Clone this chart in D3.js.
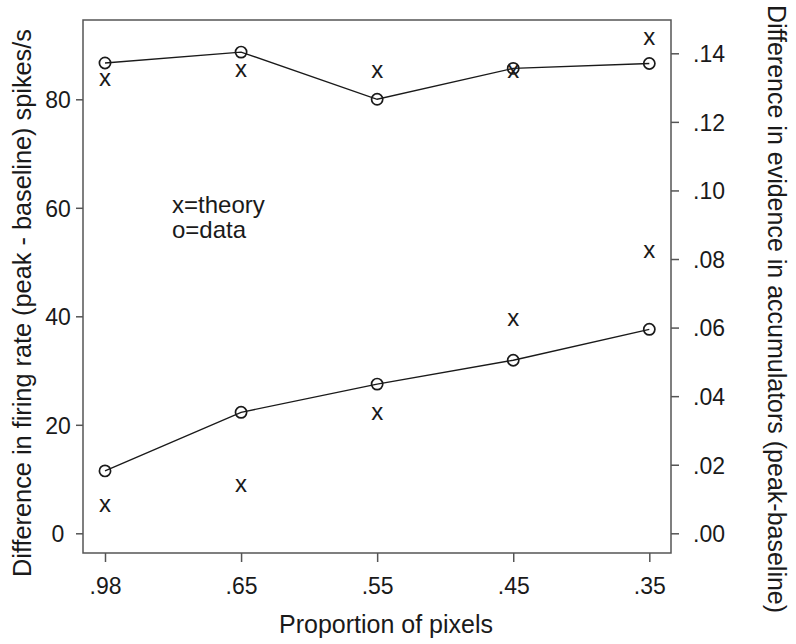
<!DOCTYPE html>
<html><head><meta charset="utf-8">
<script src="https://cdn.jsdelivr.net/npm/d3@7"></script>
<style>
html,body{margin:0;padding:0;background:#fff;}
svg{display:block;font-family:"Liberation Sans",Arial,sans-serif;}
</style></head>
<body>
<svg id="chart" width="796" height="644"></svg>
<script>
const categories = [".98", ".65", ".55", ".45", ".35"];
// data (o) on left axis: firing rate, spikes/s
const dataTop = [86.7, 88.7, 80.0, 85.7, 86.6];
const dataBottom = [11.5, 22.3, 27.5, 31.9, 37.6];
// theory (x) on right axis: evidence in accumulators
const theoryTop = [0.1322, 0.1348, 0.1346, 0.1346, 0.1443];
const theoryBottom = [0.0080, 0.0139, 0.0350, 0.0622, 0.0820];
const leftTicks = [0, 20, 40, 60, 80];
const rightTicks = [0, 0.02, 0.04, 0.06, 0.08, 0.10, 0.12, 0.14];
const legendLines = ["x=theory", "o=data"];

const svg = d3.select("#chart");
const frame = {left: 83, right: 671, top: 20, bottom: 553};
const ink = "#1a1a1a", axisCol = "#555";

const x = d3.scaleLinear().domain([0, categories.length - 1]).range([105, 649.3]);
const yL = d3.scaleLinear().domain([0, 80]).range([533.3, 99.3]);
const yR = d3.scaleLinear().domain([0, 0.14]).range([533.3, 53.3]);

// frame
svg.append("rect").attr("x", frame.left).attr("y", frame.top)
  .attr("width", frame.right - frame.left).attr("height", frame.bottom - frame.top)
  .attr("fill", "none").attr("stroke", axisCol).attr("stroke-width", 1.5);

// left axis
const gL = svg.append("g").attr("transform", `translate(${frame.left},0)`)
  .call(d3.axisLeft(yL).tickValues(leftTicks).tickSize(7).tickSizeOuter(0).tickFormat(d3.format("d")));
gL.select(".domain").remove();
gL.selectAll("line").attr("stroke", axisCol).attr("stroke-width", 1.5);
gL.selectAll("text").attr("text-anchor", "middle").attr("x", -25).attr("dy", "0.36em")
  .attr("font-size", 23).attr("fill", ink).attr("font-family", "Liberation Sans, Arial, sans-serif");

// right axis
const fmtR = d => d3.format(".2f")(d).replace(/^0/, "");
const gR = svg.append("g").attr("transform", `translate(${frame.right},0)`)
  .call(d3.axisRight(yR).tickValues(rightTicks).tickSize(8).tickSizeOuter(0).tickFormat(fmtR));
gR.select(".domain").remove();
gR.selectAll("line").attr("stroke", axisCol).attr("stroke-width", 1.5);
gR.selectAll("text").attr("text-anchor", "start").attr("x", 22).attr("dy", "0.36em")
  .attr("font-size", 23).attr("fill", ink).attr("font-family", "Liberation Sans, Arial, sans-serif");

// bottom axis
const gB = svg.append("g").attr("transform", `translate(0,${frame.bottom})`)
  .call(d3.axisBottom(x).tickValues(d3.range(categories.length)).tickSize(9).tickSizeOuter(0)
    .tickFormat(i => categories[i]));
gB.select(".domain").remove();
gB.selectAll("line").attr("stroke", axisCol).attr("stroke-width", 1.5);
gB.selectAll("text").attr("y", 41).attr("dy", 0)
  .attr("font-size", 23).attr("fill", ink).attr("font-family", "Liberation Sans, Arial, sans-serif");

// axis titles
svg.append("text").attr("transform", `translate(386,633)`).attr("text-anchor", "middle")
  .attr("font-size", 25).attr("fill", ink).text("Proportion of pixels");
svg.append("text").attr("transform", `translate(31,303) rotate(-90)`).attr("text-anchor", "middle")
  .attr("font-size", 25.3).attr("fill", ink).text("Difference in firing rate (peak - baseline) spikes/s");
svg.append("text").attr("transform", `translate(768,309) rotate(90)`).attr("text-anchor", "middle")
  .attr("font-size", 25).attr("fill", ink).text("Difference in evidence in accumulators (peak-baseline)");

// data lines
const lineL = d3.line().x((d, i) => x(i)).y(d => yL(d));
[dataTop, dataBottom].forEach(s => {
  svg.append("path").datum(s).attr("d", lineL).attr("fill", "none")
    .attr("stroke", ink).attr("stroke-width", 1.4);
});

// data circles
[dataTop, dataBottom].forEach(s => {
  svg.append("g").selectAll("circle").data(s).join("circle")
    .attr("cx", (d, i) => x(i)).attr("cy", d => yL(d)).attr("r", 5.6)
    .attr("fill", "none").attr("stroke", ink).attr("stroke-width", 1.7);
});

// theory x marks
[theoryTop, theoryBottom].forEach(s => {
  svg.append("g").selectAll("text").data(s).join("text")
    .attr("x", (d, i) => x(i)).attr("y", d => yR(d) + 6.2)
    .attr("text-anchor", "middle").attr("font-size", 24).attr("fill", ink).text("x");
});

// legend text
svg.append("g").selectAll("text").data(legendLines).join("text")
  .attr("x", 172).attr("y", (d, i) => 213 + i * 25)
  .attr("font-size", 24).attr("fill", ink).text(d => d);
</script>
</body></html>
